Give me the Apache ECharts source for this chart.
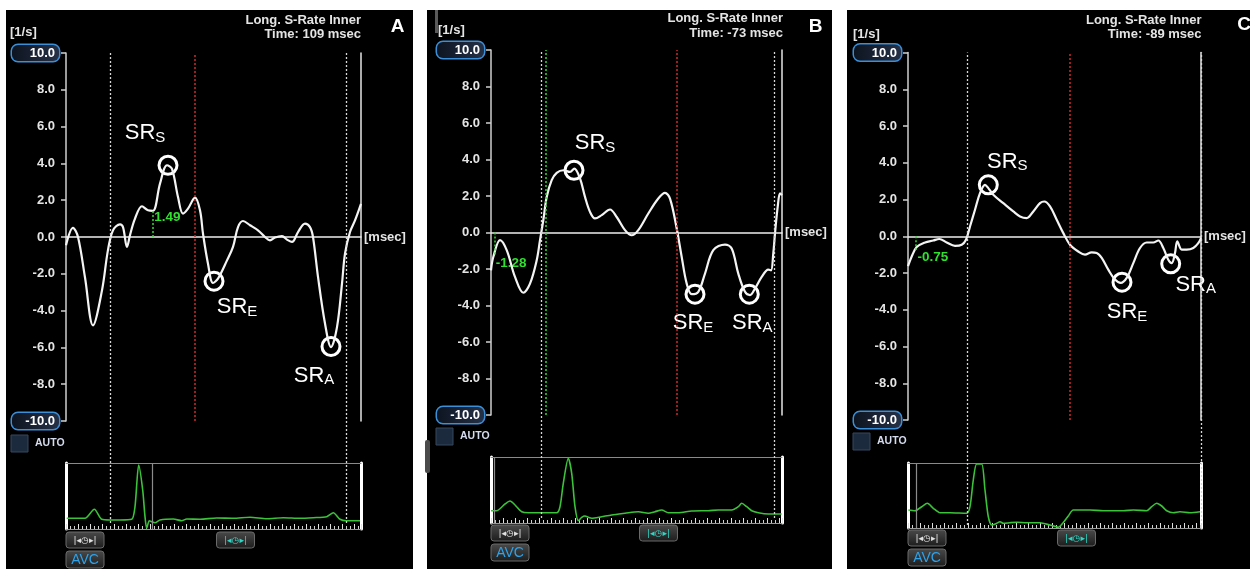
<!DOCTYPE html>
<html><head><meta charset="utf-8">
<script src="https://cdn.jsdelivr.net/npm/echarts@6/dist/echarts.min.js"></script>
<style>html,body{margin:0;padding:0;background:#fff}#c{width:1250px;height:572px}</style>
</head><body><div id="c"></div>
<script>
// ================= DATA =================
const panelLetters = ['A', 'B', 'C'];
const cursorTimes = [109, -73, -89];              // "Time: ... msec"
const yMin = -10, yMax = 10, yStep = 2;           // strain-rate axis [1/s]
const peakNames = ['S', 'E', 'A'];                // SR_S, SR_E, SR_A

// main strain-rate curves  [t, SR]
const curveA = [[0,-0.45],[7,0.5],[12,0],[19,-2.2],[27,-4.8],[36,-2.9],[42,-0.7],[47,0.36],[54,0.69],[57,0.54],[61,-0.54],[64,0.1],[69,1.0],[76,1.67],[82,1.45],[87,1.42],[94,2.9],[101,3.9],[106,3.7],[112,2.17],[117,1.27],[122,1.54],[129,2.14],[134,1.45],[137,0.18],[142,-1.45],[147,-2.5],[152,-2.26],[161,-1.27],[167,-0.54],[172,0.54],[177,0.87],[184,0.64],[192,0.36],[199,0],[204,-0.18],[209,-0.03],[216,0.05],[221,-0.14],[226,-0.27],[232,0.27],[239,0.73],[244,0.54],[247,0],[252,-2.17],[259,-4.7],[265,-5.98],[271,-4.9],[276,-2.53],[279,-0.9],[284,0.27],[289,0.9],[295,1.8]];
const curveB = [[0,-2.07],[2.3,-1.34],[9,-0.42],[15.7,-0.97],[24,-2.43],[32.3,-3.3],[39,-2.8],[45.7,-1.52],[49,-0.42],[52.3,0.67],[55.7,1.95],[60.7,2.87],[65.7,3.27],[72.3,3.41],[79,3.32],[83.3,3.5],[89,2.96],[94,1.95],[99,1.13],[104,0.77],[110.7,0.95],[119,1.26],[125.7,0.85],[134,0.13],[140.7,-0.15],[147.3,0.13],[157.3,1.04],[167.3,1.86],[174,2.17],[179,1.86],[185.7,0.22],[190.7,-1.34],[195.7,-2.8],[200.7,-3.38],[207.3,-3.25],[214,-2.25],[222.3,-0.97],[234,-0.66],[240.7,-0.88],[247.3,-2.25],[254,-3.25],[259,-3.43],[264,-3.07],[270.7,-2.43],[277.3,-2.03],[280,-2.07],[282.3,-1.15],[284,-0.05],[286.7,1.4],[289,2.14],[291,2.05]];
const curveC = [[0,-1.63],[3.7,-1.1],[8.7,-0.59],[17,-0.34],[25.3,-0.23],[31.3,-0.15],[38.7,-0.34],[47,-0.52],[53.7,-0.46],[58,-0.19],[62,0.53],[67,1.44],[72,2.35],[77,2.8],[80.3,2.62],[85.3,2.26],[95.3,1.8],[105.3,1.35],[112,1.08],[118.7,0.99],[125.3,1.35],[132,1.8],[136.3,1.89],[142,1.62],[148.7,0.9],[155.3,0.17],[162,-0.46],[170.3,-0.83],[177,-1.0],[183.7,-0.88],[188.7,-0.91],[193.7,-1.18],[200.3,-1.82],[207,-2.36],[212.7,-2.54],[218.7,-2.27],[225.3,-1.46],[232,-0.64],[238.7,-0.34],[245.3,-0.34],[250.3,-0.23],[255.3,-0.64],[260.3,-1.28],[263.7,-1.46],[267,-0.91],[269.3,-0.28],[273.7,-0.73],[278.7,-0.73],[285.3,-0.64],[290.3,-0.37],[293,-0.1]];

// peak markers (circles)
const peaksA = [[102,3.9],[148,-2.4],[265,-5.95]];
const peaksB = [[83,3.41],[204,-3.38],[258.3,-3.38]];
const peaksC = [[80.3,2.8],[214,-2.5],[262.7,-1.5]];

// cursor  [t, value]
const cursorA = [86.7, 1.49];
const cursorB = [3.3, -1.28];
const cursorC = [8, -0.75];

// event lines (t)
const eventsA = [44, 280];      const redA = [129];   const greenA = [];
const eventsB = [50.7, 283.3];  const redB = [185.7]; const greenB = [55];
const eventsC = [59.7, 293];    const redC = [161.3]; const greenC = [];

// overview (mini) traces [t, amplitude]
const miniA = [[0.7,10.7],[19,10.7],[28.3,19.7],[35.7,9.7],[44,9],[54,9],[65.7,9.7],[69,22.3],[72.7,64],[76.7,39],[79,12.3],[80.7,0.7],[83.3,8.3],[85.7,7.3],[89,6.3],[94,9],[107.3,10],[115.7,8.3],[120.7,10],[134,9.7],[150.7,11],[167.3,10.7],[184,11.7],[200.7,10.3],[217.3,11.3],[234,10.7],[247.3,11.3],[260.7,12.3],[267.3,16.3],[274,9.7],[280.7,8.3],[294,8.3]];
const miniB = [[0,12.3],[5.7,12.3],[14,19],[19,22],[24,18],[30.7,11.3],[37.3,10.3],[50.7,10.3],[65.7,10.3],[69,16.3],[72.3,39.7],[77.3,64.7],[80.7,49.7],[84,16.3],[87.3,2.3],[90.7,5.7],[94,7],[97.3,5.7],[100.7,4.7],[110.7,6.3],[120.7,8],[134,9.7],[147.3,11.3],[157.3,9.7],[164,11.3],[170.7,13],[177.3,10.3],[187.3,10.3],[200.7,12],[217.3,12.3],[227.3,13],[240.7,13],[247.3,16.3],[250.7,19.7],[255.7,16.3],[260.7,12.3],[267.3,10.3],[277.3,9],[290.7,9]];
const miniC = [[0.3,18],[7,17.3],[13.7,21.3],[19.3,24.7],[25.3,19.7],[32,15.3],[42,15.3],[58.7,14.7],[62,21.3],[65.3,48],[68.7,64],[73.7,64],[77,38],[80.3,11.3],[83.7,3],[88.7,4.7],[92,6.3],[95.3,4.7],[102,5.3],[108.7,5.7],[118.7,5.3],[132,5.3],[142,3],[150.3,0.7],[154.7,4.7],[160.3,12],[165.3,18],[182,18],[195.3,17.3],[215.3,17.3],[225.3,18],[238.7,17.3],[243.7,21.3],[248.7,24.7],[253.7,22],[258.7,17.3],[265.3,15.3],[272,16.3],[282,15.3],[292,16.3]];

// ================= LAYOUT / STYLE =================
const layout = [
  {bg:[6,10,407,559], main:{left:66,top:53,width:295,height:368}, mini:{left:66,top:463,width:295,height:66}, guideBottom:523,
   unit:[10,32], titleRight:361, titleY:[20,34], letter:[397.5,27], auto:[11,435], btnTop:532,
   labelOffsets:[[-23,-32],[23,26],[-17,29]]},
  {bg:[427,10,405,559], main:{left:491,top:50,width:291,height:365}, mini:{left:491,top:457,width:291,height:66}, guideBottom:518,
   unit:[438,30], titleRight:783, titleY:[18,33], letter:[815.5,27], auto:[436,428], btnTop:525,
   labelOffsets:[[21,-27],[-2,29],[3,29]]},
  {bg:[847,10,403,559], main:{left:908,top:52.5,width:293,height:367.5}, mini:{left:908,top:463,width:293,height:65}, guideBottom:525,
   unit:[853,34], titleRight:1201.5, titleY:[20,34], letter:[1244,25], auto:[853,433], btnTop:530,
   labelOffsets:[[19,-23],[5,30],[25,21]]}
];
const panels = [
  {curve:curveA, peaks:peaksA, cursor:cursorA, events:eventsA, red:redA, green:greenA, mini:miniA},
  {curve:curveB, peaks:peaksB, cursor:cursorB, events:eventsB, red:redB, green:greenB, mini:miniB},
  {curve:curveC, peaks:peaksC, cursor:cursorC, events:eventsC, red:redC, green:greenC, mini:miniC}
];
const FONT = '"Liberation Sans", Arial, sans-serif';
const TXT = '#e4e4e4';
const GREEN = '#2fe02f';
const MINIGREEN = '#3cc23a';

const option = {backgroundColor:'#ffffff', animation:false, grid:[], xAxis:[], yAxis:[], series:[], graphic:{elements:[]}};
const G = option.graphic.elements;

function button(x, y, w, h, text, color, size, family) {
  G.push({type:'rect', z:-5, silent:true, shape:{x:x, y:y, width:w, height:h, r:3},
    style:{fill:new echarts.graphic.LinearGradient(0,0,0,1,[{offset:0,color:'#4a4a4a'},{offset:1,color:'#1c1c1c'}]), stroke:'#6a6a6a', lineWidth:1}});
  G.push({type:'text', z:-4, silent:true, x:x + w/2, y:y + h/2 + 0.5,
    style:{text:text, fill:color, font:size + 'px ' + family, align:'center', verticalAlign:'middle'}});
}

panels.forEach((P, i) => {
  const L = layout[i];
  const xMax = L.main.width;
  // ---- background & static texts ----
  G.push({type:'rect', z:-10, silent:true, shape:{x:L.bg[0], y:L.bg[1], width:L.bg[2], height:L.bg[3]}, style:{fill:'#000'}});
  G.push({type:'text', z:-4, silent:true, x:L.unit[0], y:L.unit[1], style:{text:'[1/s]', fill:TXT, font:'bold 13px ' + FONT, align:'left', verticalAlign:'middle'}});
  G.push({type:'text', z:-4, silent:true, x:L.titleRight, y:L.titleY[0], style:{text:'Long. S-Rate Inner', fill:TXT, font:'bold 13px ' + FONT, align:'right', verticalAlign:'middle'}});
  G.push({type:'text', z:-4, silent:true, x:L.titleRight, y:L.titleY[1], style:{text:'Time: ' + cursorTimes[i] + ' msec', fill:TXT, font:'bold 13px ' + FONT, align:'right', verticalAlign:'middle'}});
  G.push({type:'text', z:-4, silent:true, x:L.letter[0], y:L.letter[1], style:{text:panelLetters[i], fill:'#ffffff', font:'bold 19px ' + FONT, align:'center', verticalAlign:'middle'}});
  G.push({type:'rect', z:-5, silent:true, shape:{x:L.auto[0], y:L.auto[1], width:17, height:17}, style:{fill:'#1c2a3d', stroke:'#34465e', lineWidth:1}});
  G.push({type:'text', z:-4, silent:true, x:L.auto[0] + 24, y:L.auto[1] + 8.5, style:{text:'AUTO', fill:'#d6dcef', font:'bold 10.5px ' + FONT, align:'left', verticalAlign:'middle'}});
  button(L.mini.left, L.btnTop, 38, 16, '|◂◷▸|', '#e0e0e0', 9, '"DejaVu Sans", sans-serif');
  button(L.mini.left + L.mini.width/2 + 3, L.btnTop, 38, 16, '|◂◷▸|', '#2fd6c4', 9, '"DejaVu Sans", sans-serif');
  button(L.mini.left, L.btnTop + 19, 38, 17, 'AVC', '#2ea2ea', 14, FONT);

  // ---- grids ----
  const gMain = option.grid.length;
  option.grid.push({left:L.main.left, top:L.main.top, width:L.main.width, height:L.main.height});
  const gMini = option.grid.length;
  option.grid.push({left:L.mini.left, top:L.mini.top, width:L.mini.width, height:L.mini.height});
  const gGuide = option.grid.length;
  option.grid.push({left:L.main.left, top:L.main.top, width:L.main.width, height:L.guideBottom - L.main.top});

  // ---- axes ----
  const xMain = option.xAxis.length;
  option.xAxis.push({type:'value', gridIndex:gMain, min:0, max:xMax,
    axisLine:{show:true, onZero:true, lineStyle:{color:'#eeeeee', width:1.5}}, axisTick:{show:false}, axisLabel:{show:false}, splitLine:{show:false},
    name:'[msec]', nameLocation:'end', nameGap:3, nameTextStyle:{color:TXT, fontWeight:'bold', fontSize:13, fontFamily:FONT, padding:[22,0,0,0]}});
  const xMini = option.xAxis.length;
  option.xAxis.push({type:'value', gridIndex:gMini, min:0, max:xMax, interval:12,
    axisLine:{show:true, lineStyle:{color:'#9a9a9a', width:1}},
    axisTick:{show:true, inside:true, length:5, lineStyle:{color:'#e0e0e0', width:1}},
    minorTick:{show:true, splitNumber:3, length:3, lineStyle:{color:'#d0d0d0', width:1}},
    axisLabel:{show:false}, splitLine:{show:false}});
  option.xAxis.push({type:'value', gridIndex:gMini, position:'top', min:0, max:xMax,
    axisLine:{show:true, onZero:false, lineStyle:{color:'#8a8a8a', width:1}}, axisTick:{show:false}, axisLabel:{show:false}, splitLine:{show:false}});
  const xGuide = option.xAxis.length;
  option.xAxis.push({type:'value', gridIndex:gGuide, min:0, max:xMax, show:false});

  const yMain = option.yAxis.length;
  option.yAxis.push({type:'value', gridIndex:gMain, min:yMin, max:yMax, interval:yStep,
    axisLine:{show:true, onZero:false, lineStyle:{color:'#cfcfcf', width:1.5}},
    axisTick:{show:true, length:5, lineStyle:{color:'#cfcfcf', width:1.5}},
    splitLine:{show:false},
    axisLabel:{show:true, margin:7,
      formatter:v => (v === yMax || v === yMin) ? '{b|' + v.toFixed(1) + '}' : '{n|' + v.toFixed(1) + '}',
      rich:{
        n:{color:TXT, fontWeight:'bold', fontSize:13, fontFamily:FONT, padding:[0,4,0,0]},
        b:{color:'#ffffff', fontWeight:'bold', fontSize:13, fontFamily:FONT, width:40, align:'right', lineHeight:15,
           padding:[2,4,1,3], borderColor:'#3b8fd8', borderWidth:1.5, borderRadius:6,
           backgroundColor:new echarts.graphic.LinearGradient(0,0,1,0,[{offset:0,color:'#0d1420'},{offset:1,color:'#263248'}])}
      }}});
  option.yAxis.push({type:'value', gridIndex:gMain, position:'right', min:yMin, max:yMax,
    axisLine:{show:true, onZero:false, lineStyle:{color:'#e6e6e6', width:1.5}}, axisTick:{show:false}, axisLabel:{show:false}, splitLine:{show:false}});
  const yMini = option.yAxis.length;
  option.yAxis.push({type:'value', gridIndex:gMini, min:0, max:L.mini.height,
    axisLine:{show:true, onZero:false, lineStyle:{color:'#ffffff', width:3}}, axisTick:{show:false}, axisLabel:{show:false}, splitLine:{show:false}});
  option.yAxis.push({type:'value', gridIndex:gMini, position:'right', min:0, max:L.mini.height,
    axisLine:{show:true, onZero:false, lineStyle:{color:'#ffffff', width:3}}, axisTick:{show:false}, axisLabel:{show:false}, splitLine:{show:false}});
  const yGuide = option.yAxis.length;
  option.yAxis.push({type:'value', gridIndex:gGuide, min:0, max:1, show:false});

  // ---- series ----
  option.series.push({type:'line', xAxisIndex:xGuide, yAxisIndex:yGuide, data:[[0,0.5]], symbol:'none', lineStyle:{opacity:0}, silent:true,
    markLine:{silent:true, symbol:['none','none'], label:{show:false},
      lineStyle:{color:'#d6d6d6', type:[2,2], width:1.3},
      data:P.events.map(t => ({xAxis:t}))}});
  option.series.push({type:'line', xAxisIndex:xMain, yAxisIndex:yMain, data:P.curve, smooth:0.35, symbol:'none',
    lineStyle:{color:'#f4f4f4', width:2.2}, silent:true,
    markLine:{silent:true, symbol:['none','none'], label:{show:false},
      data:P.red.map(t => ({xAxis:t, lineStyle:{color:'#d42a2a', type:[2,2], width:1.5}}))
        .concat(P.green.map(t => ({xAxis:t, lineStyle:{color:GREEN, type:[2,2], width:1.5}})))}});
  option.series.push({type:'scatter', xAxisIndex:xMain, yAxisIndex:yMain, data:[P.cursor], symbolSize:1,
    itemStyle:{color:'rgba(0,0,0,0)', opacity:1}, silent:true,
    label:{show:true, position:[2,1], formatter:p => p.value[1].toFixed(2), color:GREEN, fontWeight:'bold', fontSize:13.5, fontFamily:FONT},
    markLine:{silent:true, symbol:['none','none'], label:{show:false}, lineStyle:{color:GREEN, type:[2,2], width:1.5},
      data:[[{coord:[P.cursor[0], 0]}, {coord:[P.cursor[0], P.cursor[1]]}]]}});
  option.series.push({type:'scatter', xAxisIndex:xMain, yAxisIndex:yMain, silent:true,
    data:P.peaks.map((p, k) => ({value:p, name:peakNames[k], label:{offset:L.labelOffsets[k]}})),
    symbol:'circle', symbolSize:18,
    itemStyle:{color:'rgba(0,0,0,0)', borderColor:'#ffffff', borderWidth:3, opacity:1},
    label:{show:true, position:'inside', formatter:p => '{m|SR}{s|' + p.name + '}',
      rich:{m:{fontSize:22, color:'#ffffff', fontFamily:FONT, lineHeight:24},
            s:{fontSize:15, color:'#ffffff', fontFamily:FONT, lineHeight:14, verticalAlign:'bottom'}}}});
  option.series.push({type:'line', xAxisIndex:xMini, yAxisIndex:yMini, data:P.mini, smooth:0.25, symbol:'none',
    lineStyle:{color:MINIGREEN, width:1.6}, silent:true,
    markLine:{silent:true, symbol:['none','none'], label:{show:false}, lineStyle:{color:'#8c8c8c', type:'solid', width:1.2},
      data:[{xAxis:P.cursor[0]}]}});
});

G.push({type:'rect', z:-4, silent:true, shape:{x:435, y:10, width:3, height:23}, style:{fill:'#5a5a5a'}});
G.push({type:'rect', z:-4, silent:true, shape:{x:425, y:440, width:5, height:33, r:2}, style:{fill:'#4a4a4a'}});

const chart = echarts.init(document.getElementById('c'), null, {renderer:'canvas'});
chart.setOption(option);
</script></body></html>
